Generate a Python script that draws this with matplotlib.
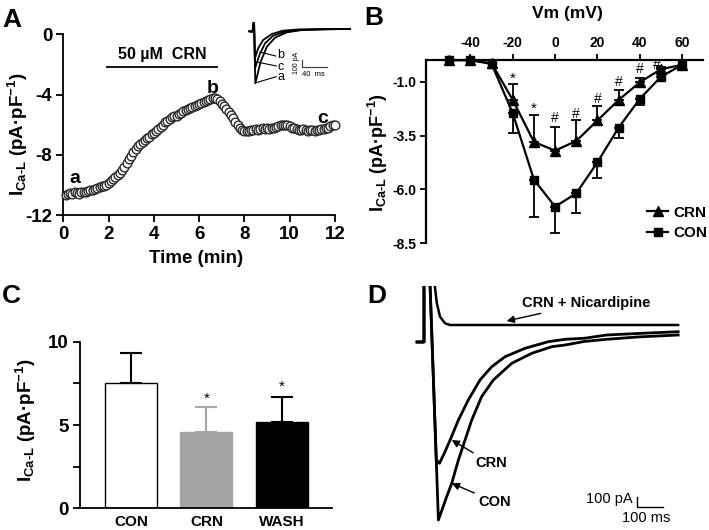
import matplotlib
matplotlib.use("Agg")
import matplotlib.pyplot as plt
import numpy as np

plt.rcParams['font.family'] = ['Liberation Sans', 'DejaVu Sans']
plt.rcParams['font.weight'] = 'bold'
plt.rcParams['axes.unicode_minus'] = False
plt.rcParams['mathtext.fontset'] = 'custom'
plt.rcParams['mathtext.rm'] = 'Liberation Sans:bold'
plt.rcParams['mathtext.bf'] = 'Liberation Sans:bold'
plt.rcParams['mathtext.default'] = 'bf'

# ---------------- data ----------------
# Panel A: time course of I_Ca-L (pA/pF), one sample every 0.1 min from 0.1 to 12.0 min
sample_step_min = 0.1
ica_time_course = [
    -10.65, -10.60, -10.55, -10.60, -10.50, -10.55, -10.60, -10.50, -10.45, -10.50,
    -10.40, -10.35, -10.35, -10.25, -10.20, -10.15, -10.10, -10.05, -10.00, -9.85,
    -9.75, -9.60, -9.50, -9.35, -9.20, -9.00, -8.80, -8.55, -8.30, -8.05,
    -7.80, -7.60, -7.45, -7.30, -7.15, -7.00, -6.90, -6.80, -6.65, -6.55,
    -6.45, -6.30, -6.15, -6.00, -5.85, -5.75, -5.60, -5.50, -5.45, -5.40,
    -5.30, -5.20, -5.10, -5.00, -4.95, -4.90, -4.85, -4.75, -4.70, -4.60,
    -4.55, -4.50, -4.40, -4.35, -4.30, -4.25, -4.25, -4.30, -4.45, -4.60,
    -4.75, -4.95, -5.15, -5.35, -5.55, -5.80, -6.00, -6.20, -6.35, -6.45,
    -6.45, -6.40, -6.35, -6.35, -6.30, -6.35, -6.30, -6.25, -6.30, -6.25,
    -6.30, -6.20, -6.20, -6.15, -6.10, -6.05, -6.00, -6.05, -6.05, -6.10,
    -6.20, -6.25, -6.30, -6.35, -6.35, -6.30, -6.35, -6.40, -6.35, -6.35,
    -6.40, -6.35, -6.35, -6.30, -6.30, -6.25, -6.20, -6.10, -6.05, -6.00,
]
drug_on_min, drug_off_min = 1.94, 6.77
drug_label = "50 µM  CRN"
point_labels = ["a", "b", "c"]
point_label_t = [0.49, 6.58, 11.44]
point_label_y = [-9.89, -3.92, -5.91]

# Panel A inset: example current traces (ms, pA)
inset_t_a = [-9, -4, -2.4, -1.5, 0.5, 9, 19, 32, 51, 75, 110, 152]
inset_i_a = [-20, -25, 105, 105, -800, -475, -250, -115, -35, 0, 10, 15]
inset_t_b = [-9, -4, -2.4, -1.5, 0, 5, 13, 27, 45, 72, 110, 152]
inset_i_b = [-20, -25, 105, 105, -424, -274, -150, -60, -10, 10, 12, 15]
inset_t_c = [-9, -4, -2.4, -1.5, 0, 7, 16, 29, 48, 72, 110, 152]
inset_i_c = [-20, -25, 105, 105, -574, -375, -200, -85, -25, 0, 12, 15]

# Panel B: I-V relationship
vm = [-50, -40, -30, -20, -10, 0, 10, 20, 30, 40, 50, 60]
iv_crn = [0, 0, -0.15, -1.85, -3.8, -4.2, -3.75, -2.8, -1.85, -1.03, -0.42, -0.22]
iv_crn_err = [0, 0, 0, 0.75, 1.25, 1.1, 0.95, 0.65, 0.45, 0.22, 0.1, 0]
iv_con = [0, 0, -0.18, -2.47, -5.55, -6.8, -6.18, -4.74, -3.13, -1.8, -0.77, -0.22]
iv_con_err = [0, 0, 0, 0.9, 1.72, 1.2, 0.92, 0.71, 0.47, 0.28, 0.2, 0]
sig_vm = [-20, -10, 0, 10, 20, 30, 40, 48]
sig_y = [-0.85, -2.24, -2.7, -2.5, -1.8, -1.0, -0.43, -0.24]
sig_sym = ["*", "*", "#", "#", "#", "#", "#", "#"]
iv_xticks = [-40, -20, 0, 20, 40, 60]
iv_yticks = [-1.0, -3.5, -6.0, -8.5]

# Panel C: bar chart
groups = ["CON", "CRN", "WASH"]
bar_vals = [7.5, 4.58, 5.16]
bar_err = [1.8, 1.48, 1.54]
bar_sig = ["", "*", "*"]
bar_sig_y = [0, 6.55, 7.3]
c_yticks = [0, 2.5, 5, 7.5, 10]
c_yticklabels = ["0", "", "5", "", "10"]

# Panel D: representative traces (ms, pA)
con_t = [-26, 0, 0, 22, 54, 85, 104, 129, 154, 179, 216, 260, 329, 404, 479, 529, 600, 685, 800, 953]
con_i = [0, 0, 620, 620, -1780, -1547, -1413, -1180, -980, -780, -547, -380, -213, -113, -47, -30, 5, 27, 50, 70]
crn_t = [-26, 0, 0, 22, 46, 58, 76, 98, 129, 166, 210, 254, 304, 379, 466, 529, 600, 685, 800, 953]
crn_i = [0, 0, 620, 620, -1180, -1213, -1113, -980, -780, -580, -380, -247, -147, -63, 3, 27, 37, 70, 85, 103]
nic_t = [-26, 0, 0, 34, 41, 48, 60, 79, 98, 400, 700, 953]
nic_i = [0, 0, 620, 620, 550, 390, 253, 187, 170, 170, 170, 170]

# ---------------- figure ----------------
W, H = 709, 530
fig = plt.figure(figsize=(W / 100, H / 100), dpi=100)


def rect(x0, y0, x1, y1):
    return [x0 / W, 1 - y1 / H, (x1 - x0) / W, (y1 - y0) / H]


def ftext(x, y, s, **kw):
    return fig.text(x / W, 1 - y / H, s, **kw)


ylab = r"I$_{\rm Ca\text{-}L}$ (pA·pF$^{-1}$)"

# ---- Panel A ----
axA = fig.add_axes(rect(63.3, 34.3, 335, 215))
t_a = np.round(np.arange(1, len(ica_time_course) + 1) * sample_step_min, 1)
axA.plot(t_a, ica_time_course, ls='none', marker='o', ms=6.3, mfc='white',
         mec='#2a2a2a', mew=1.0, clip_on=False, zorder=3)
axA.set_xlim(0, 12)
axA.set_ylim(-12, 0)
axA.set_xticks(range(0, 13, 2))
axA.set_yticks([0, -4, -8, -12])
for s in ['top', 'right']:
    axA.spines[s].set_visible(False)
for s in ['left', 'bottom']:
    axA.spines[s].set_linewidth(1.3)
axA.tick_params(direction='out', length=5, width=1.3, labelsize=13.5, pad=3)
axA.plot([drug_on_min, drug_off_min], [-2.15, -2.15], color='k', lw=1.3)
axA.text((drug_on_min + drug_off_min) / 2, -1.37, drug_label, ha='center',
         va='center', fontsize=11.5, fontweight='bold')
for lab, tx, ty in zip(point_labels, point_label_t, point_label_y):
    axA.text(tx, ty, lab, ha='center', va='baseline', fontsize=14, fontweight='bold')
ftext(18, 134, ylab, rotation=90, ha='center', va='center', fontsize=13.5)
ftext(196, 263, "Time (min)", ha='center', va='baseline', fontsize=13.5)
ftext(2, 26.7, "A", ha='left', va='baseline', fontsize=19)

# inset
axI = fig.add_axes(rect(245, 20, 352, 88))
axI.set_xlim(-16, 155)
axI.set_ylim(-870, 150)
axI.axis('off')
for tt, ii in [(inset_t_a, inset_i_a), (inset_t_c, inset_i_c), (inset_t_b, inset_i_b)]:
    axI.plot(tt, ii, color='k', lw=1.3)
axI.plot([74.7, 74.7, 114.7], [-450, -550, -550], color='#444444', lw=0.9)
axI.text(67, -500, "100 pA", rotation=90, ha='center', va='center', fontsize=5,
         fontweight='normal')
axI.text(93, -660, "40  ms", ha='center', va='center', fontsize=5.5, fontweight='normal')
for lab, (x0, y0, x1, y1, ly) in zip(["b", "c", "a"],
                                     [(8, -330, 33, -390, -375),
                                      (3, -480, 34, -540, -550),
                                      (2, -790, 34, -700, -710)]):
    axI.plot([x0, x1], [y0, y1], color='k', lw=0.8)
    axI.text(x1 + 2, ly, lab, ha='left', va='center', fontsize=9, fontweight='normal')

# ---- Panel B ----
axB = fig.add_axes(rect(426, 60.1, 703.3, 243.3))
axB.set_xlim(-61, 70)
axB.set_ylim(-8.5, 0)
for s in ['bottom', 'right']:
    axB.spines[s].set_visible(False)
for s in ['top', 'left']:
    axB.spines[s].set_linewidth(1.6)
axB.xaxis.tick_top()
axB.set_xticks(iv_xticks)
axB.set_yticks(iv_yticks)
axB.set_yticklabels([f"{v:.1f}" for v in iv_yticks])
axB.tick_params(direction='out', length=4, width=1.3, labelsize=10, pad=3)
vm_a = np.array(vm)
crn_a, crn_e = np.array(iv_crn), np.array(iv_crn_err)
con_a, con_e = np.array(iv_con), np.array(iv_con_err)
mk = crn_e > 0
axB.errorbar(vm_a[mk], crn_a[mk], yerr=[np.zeros(mk.sum()), crn_e[mk]], fmt='none',
             ecolor='k', elinewidth=1.3, capsize=3.5, capthick=1.3, zorder=2)
mk2 = con_e > 0
axB.errorbar(vm_a[mk2], con_a[mk2], yerr=[con_e[mk2], np.zeros(mk2.sum())], fmt='none',
             ecolor='k', elinewidth=1.3, capsize=3.5, capthick=1.3, zorder=2)
l_crn, = axB.plot(vm, iv_crn, '-^', color='k', lw=1.6, ms=6.5, clip_on=False, zorder=3, label='CRN')
l_con, = axB.plot(vm, iv_con, '-s', color='k', lw=1.6, ms=5.5, clip_on=False, zorder=3, label='CON')
for x, y, s in zip(sig_vm, sig_y, sig_sym):
    axB.text(x, y, s, ha='center', va='center', fontsize=10 if s == '#' else 11,
             fontweight='normal')
axB.legend(handles=[l_crn, l_con], loc='upper left', bbox_to_anchor=(0.797, 0.205),
           frameon=False, fontsize=11, handlelength=1.4, handletextpad=0.3,
           borderpad=0, borderaxespad=0, labelspacing=0.4)
ftext(378, 153, ylab, rotation=90, ha='center', va='center', fontsize=13)
ftext(567, 18, "Vm (mV)", ha='center', va='baseline', fontsize=12.5)
ftext(364, 25, "B", ha='left', va='baseline', fontsize=19)

# ---- Panel C ----
axC = fig.add_axes(rect(80, 341.7, 332, 508.3))
face = ['white', '#a5a5a5', 'black']
edge = ['black', '#a5a5a5', 'black']
xpos = np.arange(len(groups))
axC.bar(xpos, bar_vals, width=0.69, color=face, edgecolor=edge, linewidth=1.0, zorder=2)
for i in range(len(groups)):
    axC.errorbar(xpos[i], bar_vals[i], yerr=[[0], [bar_err[i]]], fmt='none',
                 ecolor=edge[i], elinewidth=1.5, capsize=8, capthick=1.5, zorder=1)
    if bar_sig[i]:
        axC.text(xpos[i], bar_sig_y[i], bar_sig[i], ha='center', va='center',
                 fontsize=11, fontweight='normal')
axC.set_xlim(-0.68, 2.67)
axC.set_ylim(0, 10)
axC.set_yticks(c_yticks)
axC.set_yticklabels(c_yticklabels)
axC.set_xticks(xpos)
axC.set_xticklabels(groups)
for s in ['top', 'right']:
    axC.spines[s].set_visible(False)
for s in ['left', 'bottom']:
    axC.spines[s].set_linewidth(1.3)
axC.tick_params(axis='y', direction='out', length=5, width=1.3, labelsize=13.5, pad=3)
axC.tick_params(axis='x', length=0, labelsize=11, pad=5)
ftext(25.5, 420, ylab, rotation=90, ha='center', va='center', fontsize=13.5)
ftext(2, 303.3, "C", ha='left', va='baseline', fontsize=19)

# ---- Panel D ----
axD = fig.add_axes(rect(400, 286, 700, 530))
axD.set_xlim(-90, 1035)
axD.set_ylim(-1880, 560)
axD.axis('off')
axD.plot(nic_t, nic_i, color='k', lw=1.8)
axD.plot(con_t, con_i, color='k', lw=2.0)
axD.plot(crn_t, crn_i, color='k', lw=2.0)
arrow = dict(arrowstyle='-|>', color='k', lw=1.0, mutation_scale=11, shrinkA=1, shrinkB=0)
axD.annotate("CRN + Nicardipine", xy=(310, 210), xytext=(366, 387), ha='left', va='center',
             fontsize=10.5, fontweight='bold', arrowprops=arrow)
axD.annotate("CRN", xy=(104, -980), xytext=(191, -1213), ha='left', va='center',
             fontsize=10.5, fontweight='bold', arrowprops=arrow)
axD.annotate("CON", xy=(104, -1413), xytext=(204, -1597), ha='left', va='center',
             fontsize=10.5, fontweight='bold', arrowprops=arrow)
axD.plot([797.5, 797.5, 897.5], [-1553, -1653, -1653], color='k', lw=1.0)
axD.text(784, -1575, "100 pA", ha='right', va='center', fontsize=10.5, fontweight='normal')
axD.text(835, -1760, "100 ms", ha='center', va='center', fontsize=10.5, fontweight='normal')
ftext(367, 303.3, "D", ha='left', va='baseline', fontsize=19)

fig.savefig("out.png", dpi=100)
